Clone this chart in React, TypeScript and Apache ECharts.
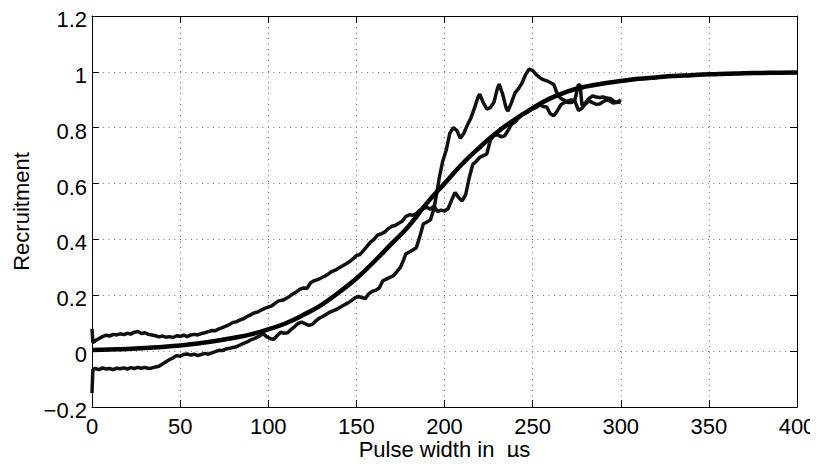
import React, { useEffect, useRef } from "react";
import * as echarts from "echarts";

const xTicks = [0, 50, 100, 150, 200, 250, 300, 350, 400];
const yTicks = [-0.2, 0, 0.2, 0.4, 0.6, 0.8, 1, 1.2];

const fitX = [0,10,20,30,40,50,60,70,80,90,100,110,120,130,140,150,160,170,180,190,200,210,220,230,240,250,260,270,280,290,300,310,320,330,340,350,360,370,380,390,400];
const fitY = [0.004,0.006,0.008,0.011,0.015,0.02,0.027,0.036,0.047,0.06,0.078,0.1,0.13,0.165,0.21,0.26,0.32,0.385,0.45,0.53,0.6,0.67,0.73,0.785,0.83,0.87,0.905,0.93,0.947,0.958,0.967,0.975,0.98,0.985,0.988,0.991,0.993,0.995,0.996,0.997,0.998];

const upperX = [0,0.5,2,4,6,8,10,12,14,16,18,20,22,24,26,28,30,32,34,36,38,40,42,44,46,48,50,52,54,56,58,60,62,64,66,68,70,72,74,76,78,80,82,84,86,88,90,92,94,96,98,100,102,104,106,108,110,112,114,116,118,120,122,124,126,128,130,132,134,136,138,140,142,144,146,148,150,152,154,156,158,160,162,164,166,168,170,172,174,176,178,180,182,184,186,188,190,192,194,196,198,200,202,204,206,208,210,212,214,216,218,220,222,224,226,228,230,232,234,236,238,240,242,244,246,248,250,252,254,256,258,260,262,264,266,268,270,272,274,276,278,280,282,284,286,288,290,292,294,296,298,300];
const upperY = [0.08,0.03,0.038,0.045,0.052,0.057,0.054,0.06,0.058,0.062,0.059,0.064,0.061,0.068,0.07,0.063,0.066,0.06,0.058,0.055,0.051,0.054,0.05,0.052,0.049,0.055,0.053,0.057,0.052,0.058,0.06,0.058,0.063,0.066,0.07,0.074,0.073,0.08,0.084,0.09,0.095,0.103,0.105,0.112,0.116,0.124,0.13,0.137,0.14,0.147,0.153,0.158,0.162,0.172,0.18,0.182,0.188,0.196,0.205,0.212,0.222,0.226,0.225,0.245,0.252,0.256,0.262,0.268,0.276,0.285,0.29,0.298,0.305,0.312,0.32,0.33,0.342,0.346,0.36,0.375,0.39,0.4,0.415,0.42,0.426,0.438,0.447,0.45,0.458,0.465,0.482,0.488,0.487,0.492,0.505,0.51,0.515,0.508,0.52,0.5,0.505,0.502,0.51,0.54,0.568,0.55,0.538,0.56,0.62,0.668,0.68,0.694,0.7,0.706,0.755,0.772,0.775,0.768,0.77,0.79,0.812,0.82,0.835,0.848,0.852,0.86,0.868,0.872,0.882,0.876,0.874,0.85,0.843,0.86,0.882,0.89,0.895,0.9,0.895,0.862,0.87,0.885,0.896,0.89,0.884,0.885,0.893,0.9,0.895,0.888,0.892,0.89];

const lowerX = [0,0.5,2,4,6,8,10,12,14,16,18,20,22,24,26,28,30,32,34,36,38,40,42,44,46,48,50,52,54,56,58,60,62,64,66,68,70,72,74,76,78,80,82,84,86,88,90,92,94,96,97,99,101,103,105,107,109,111,113,115,117,119,121,123,125,127,129,131,133,135,137,139,141,143,145,147,149,151,153,155,157,159,161,163,165,167,169,171,173,175,177,178,180,182,184,186,188,190,192,194,196,197,199,201,203,205,207,209,211,213,215,217,219,220,222,224,226,228,230,231,233,235,236,238,240,242,244,246,248,250,252,254,256,258,260,262,264,266,268,270,272,274,276,277,278,280,282,284,286,288,290,292,294,296,298,300];
const lowerY = [-0.15,-0.065,-0.062,-0.066,-0.06,-0.064,-0.062,-0.066,-0.061,-0.063,-0.06,-0.064,-0.059,-0.062,-0.058,-0.061,-0.058,-0.062,-0.06,-0.057,-0.054,-0.046,-0.038,-0.03,-0.024,-0.016,-0.018,-0.012,-0.01,-0.014,-0.011,-0.016,-0.012,-0.008,-0.011,-0.006,-0.002,0.003,0.002,0.008,0.01,0.013,0.016,0.022,0.028,0.033,0.04,0.045,0.051,0.058,0.064,0.052,0.045,0.042,0.055,0.068,0.064,0.066,0.078,0.088,0.1,0.104,0.098,0.092,0.096,0.108,0.118,0.124,0.132,0.14,0.145,0.15,0.158,0.165,0.172,0.18,0.19,0.196,0.192,0.188,0.205,0.214,0.218,0.226,0.252,0.258,0.264,0.27,0.285,0.3,0.33,0.348,0.355,0.362,0.37,0.41,0.456,0.462,0.47,0.51,0.58,0.62,0.68,0.72,0.78,0.8,0.79,0.762,0.78,0.81,0.835,0.87,0.91,0.92,0.89,0.867,0.872,0.89,0.94,0.956,0.92,0.87,0.86,0.89,0.925,0.94,0.96,0.99,1.01,1.005,0.99,0.98,0.972,0.968,0.962,0.955,0.92,0.905,0.898,0.89,0.89,0.9,0.955,0.95,0.88,0.89,0.905,0.914,0.91,0.908,0.91,0.906,0.905,0.895,0.89,0.9];

const zip = (xs: number[], ys: number[]) => xs.map((x, i) => [x, ys[i]]);
const FONT = "'Liberation Sans', Arial, Helvetica, sans-serif";
const FS = 22;

export default function App() {
  const ref = useRef<HTMLDivElement>(null);
  useEffect(() => {
    if (!ref.current) return;
    const chart = echarts.init(ref.current, null, { renderer: "svg" });
    const fmtY = (v: number) => {
      const s = String(Math.round(v * 10) / 10).replace("-", "\u2212");
      return "{v|" + s + "}";
    };
    const split = { show: true, lineStyle: { color: "#777", type: [1, 4.5] as any, width: 1 } };
    chart.setOption({
      animation: false,
      backgroundColor: "#fff",
      grid: {
        left: 92,
        right: 21,
        top: 16,
        bottom: 58,
        containLabel: false,
        outerBoundsMode: "none",
      },
      xAxis: [
        {
          type: "value",
          min: xTicks[0],
          max: xTicks[xTicks.length - 1],
          interval: 50,
          position: "bottom",
          name: "Pulse width in  \u00b5s",
          nameLocation: "middle",
          nameGap: 31,
          nameMoveOverlap: false,
          nameTextStyle: { fontFamily: FONT, fontSize: FS, color: "#000" },
          axisLine: { show: true, onZero: false, lineStyle: { color: "#000", width: 1 } },
          axisTick: { show: true, inside: true, length: 7, lineStyle: { color: "#000" } },
          axisLabel: { fontFamily: FONT, fontSize: FS, color: "#000", margin: 8 },
          splitLine: split,
        },
        {
          type: "value",
          min: xTicks[0],
          max: xTicks[xTicks.length - 1],
          interval: 50,
          position: "top",
          axisLine: { show: true, onZero: false, lineStyle: { color: "#000", width: 1 } },
          axisTick: { show: true, inside: true, length: 7, lineStyle: { color: "#000" } },
          axisLabel: { show: false },
          splitLine: { show: false },
        },
      ],
      yAxis: [
        {
          type: "value",
          min: yTicks[0],
          max: yTicks[yTicks.length - 1],
          interval: 0.2,
          position: "left",
          name: "Recruitment",
          nameLocation: "middle",
          nameGap: 56,
          nameTextStyle: { fontFamily: FONT, fontSize: FS, color: "#000" },
          axisLine: { show: true, onZero: false, lineStyle: { color: "#000", width: 1 } },
          axisTick: { show: true, inside: true, length: 7, lineStyle: { color: "#000" } },
          axisLabel: {
            fontFamily: FONT,
            fontSize: FS,
            color: "#000",
            margin: 5,
            formatter: fmtY,
            rich: {
              v: { fontFamily: FONT, fontSize: FS, color: "#000", padding: [7, 0, 0, 0] },
            },
          },
          splitLine: split,
        },
        {
          type: "value",
          min: yTicks[0],
          max: yTicks[yTicks.length - 1],
          interval: 0.2,
          position: "right",
          axisLine: { show: true, onZero: false, lineStyle: { color: "#000", width: 1 } },
          axisTick: { show: true, inside: true, length: 7, lineStyle: { color: "#000" } },
          axisLabel: { show: false },
          splitLine: { show: false },
        },
      ],
      series: [
        {
          type: "line",
          data: zip(upperX, upperY),
          showSymbol: false,
          lineStyle: { color: "#111", width: 3.5 },
          z: 2,
        },
        {
          type: "line",
          data: zip(lowerX, lowerY),
          showSymbol: false,
          lineStyle: { color: "#111", width: 3.5 },
          z: 2,
        },
        {
          type: "line",
          data: zip(fitX, fitY),
          showSymbol: false,
          smooth: true,
          lineStyle: { color: "#000", width: 4.5 },
          z: 3,
        },
      ],
    });
    return () => chart.dispose();
  }, []);
  return <div ref={ref} style={{ width: 818, height: 465, margin: -8 }} />;
}
